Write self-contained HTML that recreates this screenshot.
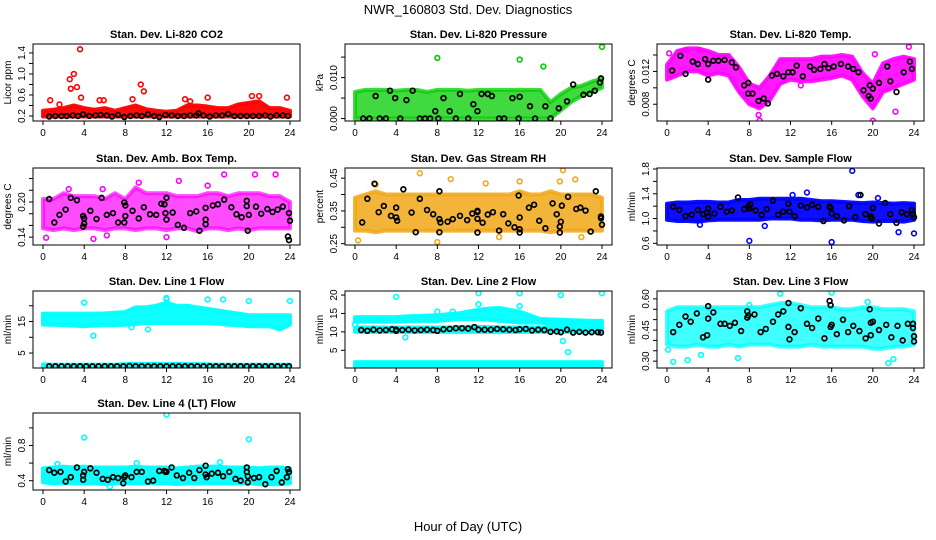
<!DOCTYPE html>
<html><head><meta charset="utf-8">
<style>
html,body{margin:0;padding:0;background:#fff;}
svg{display:block;font-family:"Liberation Sans",Arial,sans-serif;}
</style></head>
<body>
<svg id="chart" width="936" height="540" viewBox="0 0 936 540">
<text x="468" y="14" text-anchor="middle" font-size="13">NWR_160803  Std. Dev. Diagnostics</text>
<text x="468" y="531" text-anchor="middle" font-size="13">Hour of Day (UTC)</text>
</svg>
<script>
// ---------- data ----------
const bandHours = [0,1,2,3,4,5,6,7,8,9,10,11,12,13,14,15,16,17,18,19,20,21,22,23,24];

// Panel 1: CO2
const co2Lo = [0.19,0.19,0.19,0.19,0.19,0.19,0.19,0.19,0.19,0.19,0.19,0.19,0.19,0.19,0.19,0.19,0.19,0.19,0.19,0.19,0.19,0.19,0.19,0.19,0.19];
const co2Hi = [0.3,0.32,0.35,0.4,0.35,0.32,0.35,0.3,0.35,0.4,0.33,0.3,0.28,0.3,0.4,0.4,0.38,0.35,0.35,0.42,0.45,0.48,0.35,0.35,0.3];
const co2OutH = [0.7,2.6,2.7,3.0,3.3,3.6,3.7,5.5,5.9,9.5,9.8,13.8,16.0,20.3,21.0,23.7,1.6,8.7,14.3];
const co2OutV = [0.5,0.9,0.72,1.0,0.75,1.47,0.55,0.5,0.5,0.8,0.67,0.52,0.55,0.58,0.58,0.55,0.42,0.52,0.48];
const co2BlkH = [0.6,1.2,1.8,2.3,2.9,3.4,3.9,4.5,5.1,5.6,6.2,6.7,7.3,7.9,8.5,9.1,9.6,10.2,10.8,11.3,11.9,12.5,13.1,13.7,14.3,14.9,15.1,15.6,16.2,16.8,17.4,18.0,18.6,19.2,19.8,20.4,21.0,21.6,22.1,22.7,23.3,23.8];
const co2BlkV = [0.19,0.2,0.2,0.2,0.21,0.2,0.23,0.2,0.21,0.22,0.21,0.19,0.22,0.18,0.2,0.21,0.2,0.23,0.2,0.18,0.22,0.21,0.2,0.2,0.21,0.21,0.25,0.21,0.19,0.21,0.21,0.24,0.2,0.2,0.2,0.2,0.2,0.21,0.19,0.21,0.21,0.2];

// Panel 2: Pressure
const presLo = [0,0,0,0,0,0,0,0,0,0,0,0,0,0,0,0,0,0,0,0,0.002,0.004,0.0055,0.0065,0.0075];
const presHi = [0.0065,0.007,0.007,0.007,0.0068,0.007,0.007,0.0065,0.007,0.007,0.007,0.0068,0.007,0.007,0.007,0.007,0.007,0.007,0.007,0.004,0.006,0.0075,0.008,0.009,0.0098];
const presOutH = [8,16,18.3,24];
const presOutV = [0.0148,0.0144,0.0127,0.0175];
const presBlkH = [0.8,1.4,2.0,2.4,3,3.4,3.9,4.4,5.0,5.6,6.3,6.8,7.3,7.8,8.1,8.6,9.2,9.8,10.2,11,11.5,11.9,12.3,12.9,13.3,14,14.5,15.3,15.9,16,17,17.5,18.5,19,19.8,20.6,21.2,22.2,22.8,23.3,23.8,23.9];
const presBlkV = [0,0,0.0055,0,0,0.0068,0.005,0,0.0045,0.0068,0,0,0,0.0018,0,0.005,0.0018,0,0.006,0,0.0035,0.0018,0.006,0.006,0.0055,0,0,0.005,0,0.0053,0.003,0,0.003,0,0.0025,0.0042,0.0083,0.0058,0.006,0.0068,0.0088,0.0098];

// Panel 3: Li-820 Temp
const tmpLo = [0.011,0.0115,0.012,0.012,0.0115,0.0118,0.0115,0.0095,0.008,0.0075,0.0085,0.0105,0.011,0.0108,0.0108,0.011,0.0112,0.0115,0.011,0.009,0.0075,0.0095,0.01,0.0105,0.011];
const tmpHi = [0.0128,0.0145,0.0148,0.0148,0.0145,0.014,0.014,0.0125,0.0105,0.01,0.0115,0.0135,0.0135,0.0135,0.0135,0.0138,0.0138,0.014,0.0138,0.0118,0.0105,0.013,0.0135,0.0138,0.0135];
const tmpOutH = [1.8,9,8.9,20,22.2,23.5,20.2,13,7.6,0.2,3.2];
const tmpOutV = [0.0146,0.006,0.0067,0.006,0.0071,0.015,0.0141,0.0103,0.0092,0.0142,0.0146];
const tmpBlkH = [0.5,1.3,1.8,2.5,3.0,3.7,4.0,4.0,4.5,5.0,5.6,6.3,6.7,7.5,7.9,7.9,8.3,8.9,9.4,9.8,10.2,10.7,11.3,11.8,12.2,12.6,13.2,13.9,14.3,14.9,15.3,15.7,16.2,16.9,17.6,18.1,18.6,19.1,19.6,19.8,20.0,19.7,20.6,21.4,21.7,22.3,23.0,23.6,23.8];
const tmpBlkV = [0.0121,0.0139,0.0117,0.0132,0.0129,0.0135,0.0129,0.011,0.0133,0.0133,0.0134,0.0131,0.0125,0.0103,0.0106,0.0093,0.0093,0.0084,0.0087,0.0081,0.0115,0.0117,0.0114,0.0119,0.0119,0.0127,0.0114,0.0126,0.0122,0.0123,0.0129,0.0124,0.0126,0.0129,0.0126,0.0123,0.0119,0.0097,0.009,0.0087,0.0099,0.0103,0.0106,0.0126,0.0108,0.0095,0.0119,0.0132,0.0123];

// Panel 4: Amb Box Temp
const ambLo = [0.155,0.152,0.155,0.152,0.155,0.155,0.152,0.155,0.155,0.152,0.155,0.155,0.152,0.155,0.155,0.15,0.155,0.155,0.152,0.155,0.152,0.155,0.155,0.155,0.155];
const ambHi = [0.205,0.205,0.215,0.21,0.21,0.21,0.205,0.215,0.205,0.225,0.215,0.215,0.215,0.21,0.21,0.21,0.215,0.215,0.21,0.215,0.215,0.215,0.21,0.21,0.2];
const ambOutH = [0.3,4.9,9.3,13.2,16,17.6,20.6,22.6,12,2.5,5.8,6.2];
const ambOutV = [0.139,0.137,0.233,0.236,0.228,0.247,0.247,0.247,0.14,0.222,0.222,0.143];
const ambBlkH = [0.6,1.1,1.6,2.2,2.7,3.3,3.9,3.9,4.0,4.0,4.6,5.2,5.7,6.2,6.8,7.3,7.9,7.9,8.0,8.0,8.7,9.3,9.8,10.4,11.0,11.5,11.8,11.9,12.0,12.0,12.6,13.1,13.7,14.3,14.9,15.2,15.8,15.8,15.8,16.5,17.0,17.6,18.3,18.8,19.3,19.8,19.8,19.9,20.0,20.7,21.2,21.8,22.3,22.8,23.3,23.8,23.9,23.9,24];
const ambBlkV = [0.205,0.165,0.178,0.187,0.207,0.203,0.176,0.158,0.163,0.172,0.185,0.171,0.207,0.178,0.181,0.165,0.199,0.165,0.176,0.194,0.185,0.172,0.191,0.179,0.178,0.197,0.196,0.181,0.17,0.207,0.182,0.161,0.156,0.181,0.184,0.151,0.19,0.17,0.162,0.194,0.196,0.204,0.191,0.179,0.174,0.202,0.193,0.151,0.178,0.192,0.18,0.188,0.183,0.187,0.192,0.141,0.135,0.181,0.168];

// Panel 5: Gas Stream RH
const rhLo = [0.29,0.29,0.285,0.29,0.29,0.29,0.29,0.29,0.29,0.29,0.29,0.29,0.29,0.29,0.29,0.29,0.29,0.29,0.29,0.285,0.29,0.29,0.29,0.29,0.29];
const rhHi = [0.39,0.4,0.41,0.4,0.4,0.4,0.4,0.4,0.4,0.4,0.4,0.4,0.4,0.4,0.4,0.4,0.41,0.4,0.4,0.41,0.4,0.4,0.4,0.4,0.39];
const rhOutH = [0.3,6.3,8,9.3,12.7,16,20.2,21.4,19.9,2,14,22];
const rhOutV = [0.26,0.465,0.255,0.447,0.434,0.44,0.474,0.446,0.44,0.43,0.27,0.27];
const rhBlkH = [0.7,1.2,1.9,2.3,2.8,3.5,4.0,4.0,4.1,4.7,5.5,5.9,6.3,7.0,7.6,8.2,8.2,8.3,8.2,9.0,9.5,10.2,10.9,11.4,11.9,11.9,11.9,11.9,12.4,12.9,13.4,14.0,14.4,14.9,15.5,15.9,16.0,16.0,16.0,16.9,17.4,17.9,18.5,19.2,19.6,19.9,19.9,20.0,20.1,20.7,21.5,21.9,22.4,22.9,23.4,23.9,23.9,24.0];
const rhBlkV = [0.315,0.387,0.433,0.346,0.365,0.335,0.36,0.33,0.32,0.416,0.345,0.285,0.387,0.353,0.34,0.41,0.325,0.315,0.285,0.317,0.325,0.335,0.322,0.342,0.326,0.347,0.35,0.284,0.314,0.339,0.346,0.29,0.34,0.312,0.3,0.397,0.33,0.294,0.284,0.36,0.369,0.32,0.297,0.373,0.34,0.284,0.302,0.317,0.366,0.393,0.356,0.36,0.351,0.287,0.41,0.333,0.328,0.308];

// Panel 6: Sample Flow
const sfLo = [0.98,0.96,0.96,0.95,0.97,0.98,0.98,0.98,0.98,0.98,1.0,1.0,1.0,0.98,0.98,0.97,0.98,0.98,0.98,0.96,0.95,0.96,0.96,0.95,0.98];
const sfHi = [1.24,1.26,1.26,1.27,1.27,1.26,1.26,1.3,1.3,1.32,1.32,1.32,1.32,1.32,1.3,1.28,1.28,1.27,1.26,1.25,1.26,1.25,1.24,1.25,1.24];
const sfOutH = [8,16,18,9.5,22.5,24,13.6,18.6,3.2,12.2,20.5];
const sfOutV = [0.64,0.62,1.77,0.88,0.78,0.76,1.42,1.38,0.9,1.38,1.33];
const sfBlkH = [0.6,1.2,1.8,2.4,3.0,3.5,3.9,4.0,4.0,4.6,5.2,5.8,6.3,6.9,7.5,7.9,8.0,8.1,8.6,9.2,9.7,10.3,10.8,11.3,11.8,11.9,12.4,13.0,13.6,14.1,14.7,15.2,15.8,15.9,16.0,16.5,17.2,17.7,18.3,18.8,19.3,19.8,19.9,20.0,20.6,21.2,21.7,22.3,22.8,23.3,23.8,23.9,24.0];
const sfBlkV = [1.19,1.14,1.04,1.06,1.14,1.07,1.1,1.03,1.16,1.08,1.19,1.11,1.13,1.34,1.15,1.2,1.16,1.23,1.13,1.06,1.15,1.29,1.06,1.11,1.24,1.11,1.04,1.21,1.18,1.22,1.19,0.96,1.19,1.17,1.08,1.04,0.97,1.2,1.02,1.38,1.07,1.03,1.0,1.17,0.92,1.25,1.07,0.93,1.1,1.07,1.14,1.07,1.02];

// Panel 7: Line 1 Flow
const l1Lo = [14,14,13.8,13.7,13.5,13.7,13.8,13.8,14,14.2,14.5,14.5,14.5,14.5,14.5,14.5,14.5,14.3,14,13.8,13.5,13.5,13.5,12.5,14];
const l1Hi = [17.5,17.5,17.5,17.5,17.5,17.5,17.6,17.8,18,19.5,19.5,20,21,20,20,19.5,19,18.5,18,17.5,17,17,17,17,17];
const l1BaseLo = [0.4,0.4,0.4,0.4,0.4,0.4,0.4,0.4,0.4,0.4,0.4,0.4,0.4,0.4,0.4,0.4,0.4,0.4,0.4,0.4,0.4,0.4,0.4,0.4,0.4];
const l1BaseHi = [1.4,1.3,1.3,1.3,1.3,1.3,1.3,1.3,1.5,1.6,1.5,1.6,1.5,1.6,1.5,1.5,1.4,1.3,1.3,1.3,1.3,1.3,1.3,1.3,1.3];
const l1OutH = [4,4.9,12,12,16,17.5,20,24,10.2,8.6];
const l1OutV = [21,10.5,22.5,22,22,22,21.5,21.5,12.5,13.2];
const l1BlkH = [0.6,1.2,1.8,2.4,3.0,3.6,4.2,4.8,5.4,6.0,6.6,7.2,7.8,8.4,9.0,9.6,10.2,10.8,11.4,12.0,12.6,13.2,13.8,14.4,15.0,15.6,16.2,16.8,17.4,18.0,18.6,19.2,19.8,20.4,21.0,21.6,22.2,22.8,23.4,23.9];
const l1BlkV = [0.8,0.8,0.8,0.8,0.8,0.8,0.8,0.8,0.8,0.8,0.8,0.8,0.8,0.9,0.8,0.8,0.8,0.8,0.8,0.8,0.8,0.8,0.8,0.8,0.8,0.8,0.8,0.8,0.8,0.8,0.8,0.8,0.8,0.8,0.8,0.8,0.8,0.8,0.8,0.8];

// Panel 8: Line 2 Flow
const l2Lo = [12.8,12.8,12.8,12.8,12.8,12.9,13,13,13,13.2,13.5,13.5,13.5,13.3,13,12.8,12.5,12.5,12.5,12.2,12,12,12,12,12];
const l2Hi = [14,14,14,14,14,14.2,14.3,14.4,14.5,14.8,15,15.5,16,16.3,16.5,16,15.5,14.5,13.5,13.4,13.3,13.2,13.1,13,13];
const l2MidLo = [10,10,10,10,10,10,10,10,10,10,10,10,10,10,10,10,10,10,10,10,10,10,10,10,10];
const l2MidHi = [11.2,11.2,11.2,11.2,11.2,11.2,11.2,11.2,11.2,11.2,11.3,11.4,11.4,11.3,11.2,11.2,11.2,11.2,11.2,11.2,11.2,11.2,11.2,11.2,11.2];
const l2BaseLo = [0.8,0.8,0.8,0.8,0.8,0.8,0.8,0.8,0.8,0.8,0.8,0.8,0.8,0.8,0.8,0.8,0.8,0.8,0.8,0.8,0.8,0.8,0.8,0.8,0.8];
const l2BaseHi = [1.8,1.8,1.8,1.8,1.8,1.8,1.8,1.8,1.8,1.8,1.8,1.8,1.8,1.8,1.8,1.8,1.8,1.8,1.8,1.8,1.8,1.8,1.8,1.8,1.8];
const l2OutH = [4,12,16,20,24,12,16,4.9,20.2,20.7,0,8,9.5];
const l2OutV = [19.5,20.5,20.5,20,20.5,17.5,17,8.5,7.5,4.5,12,15.5,15.5];
const l2BlkH = [0.6,1.2,1.8,2.4,3.0,3.6,4.0,4.0,4.6,5.2,5.8,6.4,7.0,7.6,8.0,8.6,9.2,9.8,10.4,11.0,11.6,12.0,12.6,13.2,13.8,14.4,15.0,15.6,16.0,16.6,17.2,17.8,18.4,19.0,19.6,20.0,20.6,21.2,21.8,22.4,23.0,23.6,23.9];
const l2BlkV = [10.5,10.3,10.6,10.4,10.5,10.7,10.6,10.3,10.5,10.6,10.4,10.5,10.6,10.5,10.3,10.7,10.8,11.0,11.0,10.9,11.3,10.6,10.6,10.6,10.8,10.7,10.6,10.5,10.7,10.8,10.4,10.6,10.5,10.0,10.1,9.9,10.6,9.8,10.0,9.8,9.9,9.9,9.8];

// Panel 9: Line 3 Flow
const l3Lo = [0.38,0.37,0.37,0.38,0.37,0.37,0.38,0.37,0.38,0.38,0.38,0.37,0.37,0.37,0.38,0.37,0.37,0.37,0.37,0.37,0.36,0.36,0.37,0.37,0.38];
const l3Hi = [0.54,0.56,0.56,0.56,0.56,0.56,0.56,0.56,0.56,0.56,0.57,0.58,0.58,0.57,0.56,0.56,0.56,0.55,0.55,0.56,0.56,0.55,0.55,0.55,0.54];
const l3OutH = [0.6,2,0.1,21.5,11,16,8,19.5,6.9,3.3,22];
const l3OutV = [0.297,0.305,0.355,0.29,0.625,0.63,0.57,0.585,0.315,0.33,0.31];
const l3BlkH = [0.6,1.2,1.8,2.3,2.9,3.5,3.9,4.0,4.0,4.5,5.2,5.6,6.1,6.6,7.2,7.8,7.8,7.9,8.5,9.1,9.6,10.3,10.8,11.3,11.8,11.8,11.9,12.4,13.0,13.6,14.1,14.7,15.3,15.8,15.9,15.9,16.0,16.5,17.1,17.6,18.1,18.7,19.3,19.7,19.8,19.8,20.0,20.6,21.3,21.8,22.4,22.9,23.4,23.9,23.9,24.0,24.0];
const l3BlkV = [0.44,0.475,0.515,0.49,0.53,0.415,0.425,0.505,0.565,0.535,0.48,0.48,0.47,0.485,0.445,0.51,0.54,0.52,0.525,0.44,0.455,0.49,0.525,0.54,0.58,0.465,0.405,0.44,0.555,0.48,0.46,0.505,0.41,0.59,0.57,0.465,0.475,0.43,0.5,0.44,0.47,0.445,0.41,0.55,0.425,0.485,0.49,0.45,0.475,0.415,0.47,0.4,0.48,0.48,0.46,0.42,0.395];

// Panel 10: Line 4 (LT) Flow
const l4Lo = [0.38,0.37,0.37,0.37,0.37,0.37,0.36,0.37,0.37,0.37,0.37,0.37,0.37,0.36,0.37,0.37,0.37,0.37,0.37,0.37,0.37,0.36,0.36,0.36,0.37];
const l4Hi = [0.54,0.55,0.56,0.55,0.56,0.55,0.55,0.55,0.55,0.56,0.55,0.55,0.55,0.54,0.55,0.56,0.56,0.56,0.55,0.55,0.55,0.54,0.55,0.55,0.54];
const l4OutH = [4,12,20,6.5,17.2,9.1,1.4];
const l4OutV = [0.89,1.15,0.87,0.33,0.61,0.6,0.59];
const l4BlkH = [0.6,1.1,1.7,2.2,2.7,3.3,3.9,3.9,4.0,4.6,5.2,5.8,6.3,6.8,7.3,7.8,7.9,8.0,8.6,9.1,9.6,10.2,10.7,11.3,11.8,11.9,12.0,12.5,13.0,13.6,14.2,14.7,15.2,15.8,15.8,15.9,16.4,17.0,17.5,18.1,18.7,19.2,19.8,19.8,19.9,19.9,20.5,21.0,21.6,22.2,22.7,23.2,23.7,23.8,23.9];
const l4BlkV = [0.52,0.49,0.5,0.39,0.44,0.55,0.46,0.41,0.5,0.54,0.49,0.42,0.41,0.44,0.43,0.37,0.44,0.46,0.44,0.5,0.5,0.39,0.4,0.51,0.51,0.5,0.5,0.55,0.46,0.43,0.49,0.43,0.52,0.57,0.47,0.44,0.48,0.49,0.45,0.5,0.42,0.4,0.55,0.5,0.45,0.38,0.43,0.44,0.36,0.44,0.51,0.38,0.44,0.53,0.5];

const xTicks = [0,4,8,12,16,20,24];

// ---------- layout / style config ----------
const colX = [33,345,657], rowY = [44,168,291,413];
const BW = 267, BH = 77;
const panels = [
 {name:'co2',title:'Stan. Dev. Li-820 CO2',ylab:'Licor ppm',c:0,r:0,dom:[0.105,1.57],ticks:[0.2,0.4,0.6,0.8,1.0,1.2,1.4],labels:['0.2','0.6','1.0','1.4'],col:'#ff0000',op:0.95,bands:[[co2Lo,co2Hi]],oh:co2OutH,ov:co2OutV,bh:co2BlkH,bv:co2BlkV},
 {name:'pressure',title:'Stan. Dev. Li-820 Pressure',ylab:'kPa',c:1,r:0,dom:[-0.0006,0.0182],ticks:[0,0.005,0.01,0.015],labels:['0.000','0.010'],col:'#00cc00',op:0.75,bands:[[presLo,presHi]],oh:presOutH,ov:presOutV,bh:presBlkH,bv:presBlkV},
 {name:'licor-temp',title:'Stan. Dev. Li-820 Temp.',ylab:'degrees C',c:2,r:0,dom:[0.00596,0.01534],ticks:[0.008,0.010,0.012,0.014],labels:['0.008','0.012'],col:'#ff00ff',op:0.9,bands:[[tmpLo,tmpHi]],oh:tmpOutH,ov:tmpOutV,bh:tmpBlkH,bv:tmpBlkV},
 {name:'amb-box-temp',title:'Stan. Dev. Amb. Box Temp.',ylab:'degrees C',c:0,r:1,dom:[0.1266,0.258],ticks:[0.14,0.16,0.18,0.20,0.22,0.24],labels:['0.14','0.20'],col:'#ff00ff',op:0.7,bands:[[ambLo,ambHi]],oh:ambOutH,ov:ambOutV,bh:ambBlkH,bv:ambBlkV},
 {name:'gas-rh',title:'Stan. Dev. Gas Stream RH',ylab:'percent',c:1,r:1,dom:[0.246,0.481],ticks:[0.25,0.30,0.35,0.40,0.45],labels:['0.25','0.35','0.45'],col:'#f0a818',op:0.85,bands:[[rhLo,rhHi]],oh:rhOutH,ov:rhOutV,bh:rhBlkH,bv:rhBlkV},
 {name:'sample-flow',title:'Stan. Dev. Sample Flow',ylab:'ml/min',c:2,r:1,dom:[0.573,1.816],ticks:[0.6,0.8,1.0,1.2,1.4,1.6,1.8],labels:['0.6','1.0','1.4','1.8'],col:'#0000ff',op:0.95,bands:[[sfLo,sfHi]],oh:sfOutH,ov:sfOutV,bh:sfBlkH,bv:sfBlkV},
 {name:'line1-flow',title:'Stan. Dev. Line 1 Flow',ylab:'ml/min',c:0,r:2,dom:[0.26,24.68],ticks:[5,10,15,20],labels:['5','15'],col:'#00ffff',op:0.95,bands:[[l1Lo,l1Hi],[l1BaseLo,l1BaseHi]],oh:l1OutH,ov:l1OutV,bh:l1BlkH,bv:l1BlkV},
 {name:'line2-flow',title:'Stan. Dev. Line 2 Flow',ylab:'ml/min',c:1,r:2,dom:[0.19,21.1],ticks:[5,10,15,20],labels:['5','10','15','20'],col:'#00ffff',op:0.95,bands:[[l2Lo,l2Hi],[l2MidLo,l2MidHi],[l2BaseLo,l2BaseHi]],oh:l2OutH,ov:l2OutV,bh:l2BlkH,bv:l2BlkV},
 {name:'line3-flow',title:'Stan. Dev. Line 3 Flow',ylab:'ml/min',c:2,r:2,dom:[0.267,0.638],ticks:[0.30,0.35,0.40,0.45,0.50,0.55,0.60],labels:['0.30','0.45','0.60'],col:'#00ffff',op:0.75,bands:[[l3Lo,l3Hi]],oh:l3OutH,ov:l3OutV,bh:l3BlkH,bv:l3BlkV},
 {name:'line4-flow',title:'Stan. Dev. Line 4 (LT) Flow',ylab:'ml/min',c:0,r:3,dom:[0.294,1.169],ticks:[0.4,0.6,0.8,1.0],labels:['0.4','0.8'],col:'#00ffff',op:0.95,bands:[[l4Lo,l4Hi]],oh:l4OutH,ov:l4OutV,bh:l4BlkH,bv:l4BlkV}
];

const svg = document.getElementById('chart');
const NS = 'http://www.w3.org/2000/svg';
function mk(tag, attrs, parent){
  const e = document.createElementNS(NS, tag);
  for (const k in attrs) e.setAttribute(k, attrs[k]);
  (parent||svg).appendChild(e);
  return e;
}
const defs = mk('defs', {});

panels.forEach((p, i) => {
  const L = colX[p.c], T = rowY[p.r], B = T + BH, R = L + BW;
  const xs = h => L + 10 + h * (247 / 24);
  const ys = v => B - (v - p.dom[0]) / (p.dom[1] - p.dom[0]) * BH;
  const g = mk('g', {});
  
  
  const cp = mk('clipPath', {id: 'cp' + i}, defs);
  mk('rect', {x: L, y: T, width: BW, height: BH}, cp);

  const title = mk('text', {x: L + BW / 2, y: T - 6, 'text-anchor': 'middle', 'font-size': 11, 'font-weight': 'bold'}, g);
  title.textContent = p.title;
  
  

  const plot = mk('g', {'clip-path': 'url(#cp' + i + ')'}, g);
  
  
  p.bands.forEach(b => {
    let pts = bandHours.map((h, k) => xs(h) + ',' + ys(b[1][k]));
    pts = pts.concat(bandHours.slice().reverse().map((h, k) => xs(h) + ',' + ys(b[0][bandHours.length - 1 - k])));
    const poly = mk('polygon', {points: pts.join(' '), fill: p.col, 'fill-opacity': p.op, stroke: p.col, 'stroke-width': 4, 'stroke-linejoin': 'round', 'stroke-opacity': p.op}, plot);
    
    
  });
  p.oh.forEach((h, k) => {
    const c = mk('circle', {cx: xs(h), cy: ys(p.ov[k]), r: 2.4, fill: 'none', stroke: p.col, 'stroke-width': 1.6}, plot);
    
    
  });
  p.bh.forEach((h, k) => {
    const c = mk('circle', {cx: xs(h), cy: ys(p.bv[k]), r: 2.4, fill: 'none', stroke: '#000', 'stroke-width': 1.7}, plot);
    
    
  });

  const box = mk('rect', {x: L, y: T, width: BW, height: BH, fill: 'none', stroke: '#000', 'stroke-width': 1}, g);
  
  

  const xa = mk('g', {}, g);
  
  
  xTicks.forEach(t => {
    mk('line', {x1: xs(t), x2: xs(t), y1: B, y2: B + 4, stroke: '#000'}, xa);
    const tx = mk('text', {x: xs(t), y: B + 15, 'text-anchor': 'middle', 'font-size': 10}, xa);
    tx.textContent = t;
  });
  const ya = mk('g', {}, g);
  
  
  p.ticks.forEach(t => {
    mk('line', {x1: L - 4, x2: L, y1: ys(t), y2: ys(t), stroke: '#000'}, ya);
  });
  p.labels.forEach(lb => {
    const v = parseFloat(lb);
    const tx = mk('text', {x: L - 8, y: ys(v), 'text-anchor': 'middle', 'font-size': 10, transform: 'rotate(-90 ' + (L - 8) + ' ' + ys(v) + ')'}, ya);
    tx.textContent = lb;
  });
  const yl = mk('text', {x: L - 22, y: T + BH / 2, 'text-anchor': 'middle', 'font-size': 10, transform: 'rotate(-90 ' + (L - 22) + ' ' + (T + BH / 2) + ')'}, g);
  yl.textContent = p.ylab;
  
  
});
</script>
</body></html>
